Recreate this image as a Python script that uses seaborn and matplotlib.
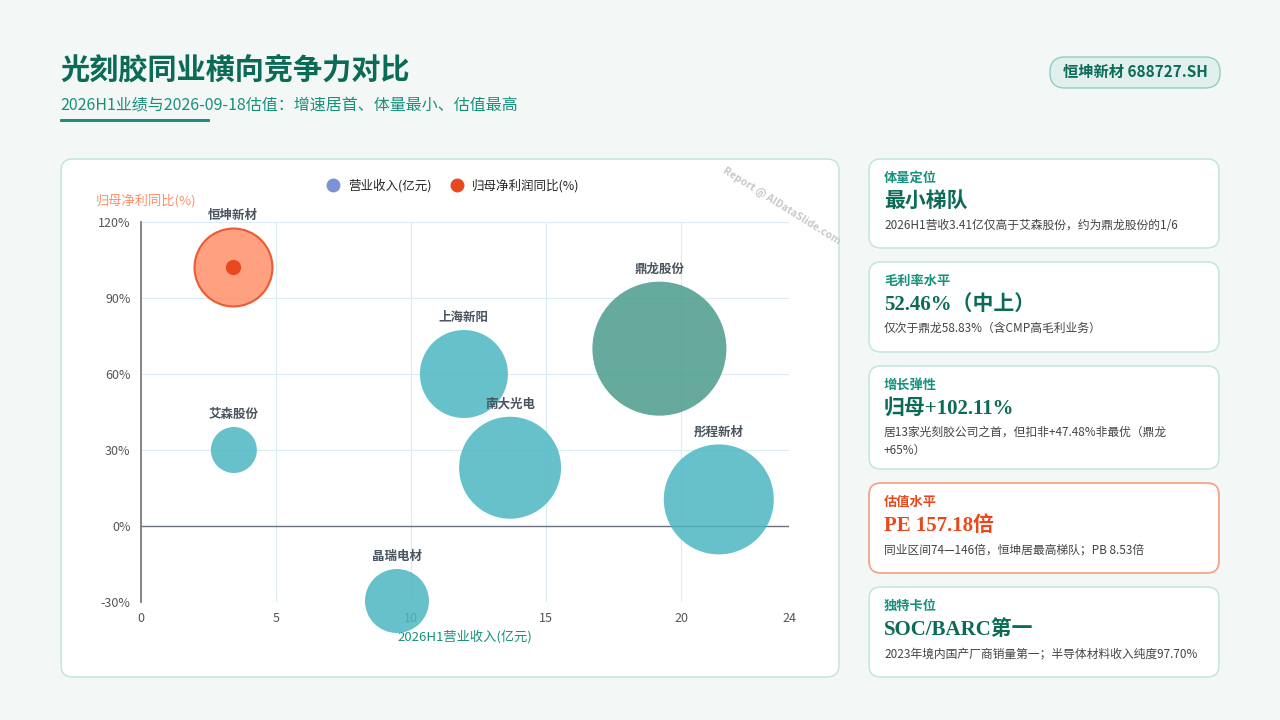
import matplotlib
matplotlib.use("Agg")
import matplotlib.pyplot as plt
import seaborn as sns
import pandas as pd
import numpy as np
from matplotlib.patches import FancyBboxPatch
from matplotlib.lines import Line2D

companies = ["恒坤新材", "艾森股份", "上海新阳", "南大光电", "鼎龙股份", "彤程新材", "晶瑞电材"]
revenue = [3.41, 3.44, 11.96, 13.67, 19.2, 21.4, 9.48]
profit_yoy = [102.11, 30, 60, 23, 70, 10.5, -29.6]
bubble_value = [1521, 529, 1936, 2601, 4489, 3025, 1024]
kinds = ["focus", "peer", "peer", "peer", "leader", "peer", "peer"]

x_ticks = [0, 5, 10, 15, 20, 24]
y_ticks = [-30, 0, 30, 60, 90, 120]

cards = [
    ("体量定位", "最小梯队", "2026H1营收3.41亿仅高于艾森股份，约为鼎龙股份的1/6", False),
    ("毛利率水平", "52.46%（中上）", "仅次于鼎龙58.83%（含CMP高毛利业务）", False),
    ("增长弹性", "归母+102.11%", "居13家光刻胶公司之首，但扣非+47.48%非最优（鼎龙\n+65%）", False),
    ("估值水平", "PE 157.18倍", "同业区间74—146倍，恒坤居最高梯队；PB 8.53倍", True),
    ("独特卡位", "SOC/BARC第一", "2023年境内国产厂商销量第一；半导体材料收入纯度97.70%", False),
]

sns.set_theme(style="white")
plt.rcParams['font.family'] = ['Noto Sans CJK SC', 'DejaVu Sans']
SERIF = ['Liberation Serif', 'Noto Sans CJK SC']

W, H = 1280, 720
fig = plt.figure(figsize=(12.8, 7.2), dpi=100)
fig.patch.set_facecolor("#f3f7f5")
DARK = "#0b6b57"
TEAL = "#17907c"

def fx(px): return px / W
def fy(py): return 1 - py / H

def card(x0, y0, x1, y1, edge, lw=1.0, r=12):
    p = FancyBboxPatch((fx(x0), fy(y1)), fx(x1 - x0), (y1 - y0) / H,
                       boxstyle=f"round,pad=0,rounding_size={r/W}",
                       transform=fig.transFigure, facecolor="white", edgecolor=edge,
                       linewidth=lw, zorder=-5, mutation_aspect=W / H)
    fig.patches.append(p)

# header
fig.text(fx(60), fy(70), "光刻胶同业横向竞争力对比", fontsize=21, fontweight="bold", color=DARK, va="center")
fig.text(fx(60), fy(106), "2026H1业绩与2026-09-18估值：增速居首、体量最小、估值最高", fontsize=11.5, color=TEAL, va="center")
fig.patches.append(FancyBboxPatch((fx(60), fy(122)), fx(150), 3 / H, boxstyle="round,pad=0,rounding_size=0.001",
                                  transform=fig.transFigure, facecolor=TEAL, edgecolor="none", zorder=-5))
badge = FancyBboxPatch((fx(1050), fy(88)), fx(170), 31 / H, boxstyle=f"round,pad=0,rounding_size={15/W}",
                       transform=fig.transFigure, facecolor="#e1f0ec", edgecolor="#8fcfc2", linewidth=1,
                       mutation_aspect=W / H, zorder=-5)
fig.patches.append(badge)
fig.text(fx(1135), fy(72), "恒坤新材 688727.SH", fontsize=11, fontweight="bold", color=DARK, ha="center", va="center")

# chart card
card(61, 159, 839, 677, "#bfe3de")

ax = fig.add_axes([fx(141), fy(602), fx(789 - 141), (602 - 222) / H])
ax.set_zorder(2)
ax.set_facecolor("none")
df = pd.DataFrame({"company": companies, "rev": revenue, "yoy": profit_yoy, "val": bubble_value, "kind": kinds})
df["s"] = (2 * np.sqrt(df["val"]) * 0.72) ** 2
colors = {"focus": "#ff8f6b", "peer": "#4bb7c1", "leader": "#4b9a8c"}
for kind, sub in df.groupby("kind"):
    sns.scatterplot(data=sub, x="rev", y="yoy", s=sub["s"].values, color=colors[kind],
                    alpha=0.85, edgecolor="#e8481c" if kind == "focus" else "none",
                    linewidth=1.5 if kind == "focus" else 0, ax=ax, legend=False, zorder=3, clip_on=False)
foc = df[df.kind == "focus"]
ax.scatter(foc["rev"], foc["yoy"], s=120, color="#e8481c", zorder=4, linewidths=0)
for _, r in df.iterrows():
    rpx = np.sqrt(r["val"])
    ax.annotate(r["company"], (r["rev"], r["yoy"]), xytext=(0, rpx * 0.72 + 9), textcoords="offset points",
                ha="center", va="center", fontsize=9, fontweight="bold", color="#4a5560", zorder=5)
ax.set_xlim(0, 24)
ax.set_ylim(-30, 120)
ax.set_xticks(x_ticks)
ax.set_yticks(y_ticks)
ax.set_yticklabels([f"{v}%" for v in y_ticks])
ax.tick_params(labelsize=9, colors="#555555", length=4, width=0.8)
ax.grid(True, color="#dcecf2", linewidth=0.8)
for s in ["top", "right"]:
    ax.spines[s].set_visible(False)
ax.spines["left"].set_color("#777777")
ax.spines["bottom"].set_visible(False)
ax.axhline(0, color="#6b7480", linewidth=1, zorder=2)
ax.set_xlabel("2026H1营业收入(亿元)", fontsize=9.5, color=TEAL, labelpad=3)
ax.set_ylabel("")
fig.text(fx(96), fy(201), "归母净利同比(%)", fontsize=9.5, color="#ff8f6b", va="center")
handles = [Line2D([], [], marker="o", ls="", color="#7b93d6", markersize=9),
           Line2D([], [], marker="o", ls="", color="#e8481c", markersize=9)]
fig.legend(handles, ["营业收入(亿元)", "归母净利润同比(%)"], loc="center", bbox_to_anchor=(fx(450), fy(186)),
           ncol=2, frameon=False, fontsize=9, handletextpad=0.2, columnspacing=1.0)
fig.text(fx(782), fy(206), "Report @ AIDataSlide.com", fontsize=7.5, color="#c8c8c8", rotation=-32,
         ha="center", va="center", fontweight="bold")

# right cards
tops = [159, 262, 366, 483, 587]
bots = [248, 352, 469, 573, 677]
for (lab, big, small, hl), t, b in zip(cards, tops, bots):
    card(869, t, 1219, b, "#f5a58a" if hl else "#bfe3de", lw=1.3 if hl else 1.0)
    c1 = "#e8481c" if hl else TEAL
    c2 = "#e8481c" if hl else DARK
    fig.text(fx(884), fy(t + 19), lab, fontsize=9.5, fontweight="bold", color=c1, va="center")
    fig.text(fx(884), fy(t + 43), big, fontsize=15, fontweight="bold", color=c2, va="center", family=SERIF)
    fig.text(fx(884), fy(t + 60), small, fontsize=8.5, color="#444444", va="top", linespacing=1.5)

fig.savefig("out.png", dpi=100, facecolor=fig.get_facecolor())
